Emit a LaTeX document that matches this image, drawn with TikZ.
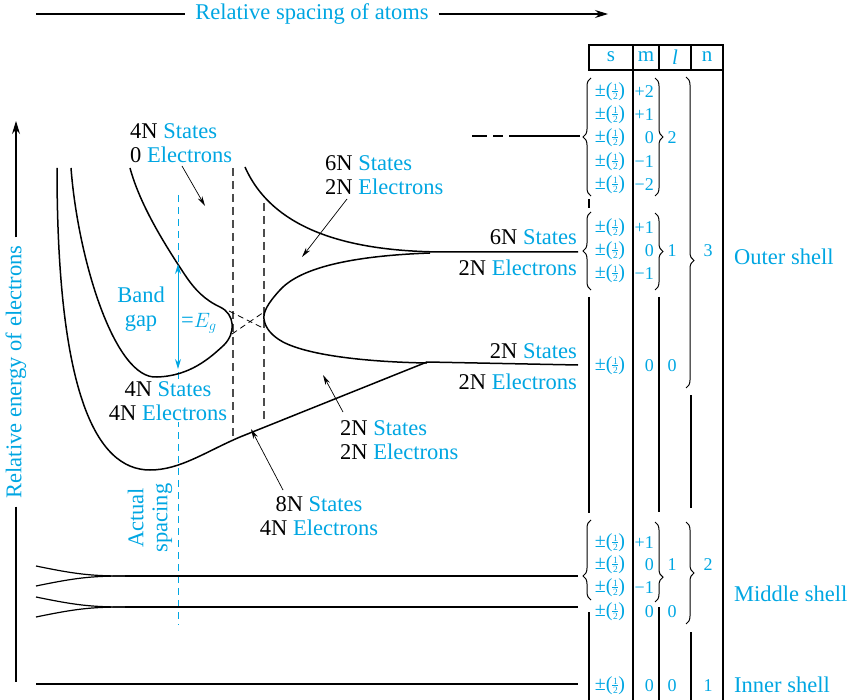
\documentclass[tikz,border=0pt]{standalone}
\usepackage{fontspec}
\setmainfont{Liberation Serif}
\usetikzlibrary{arrows.meta,decorations.pathreplacing}
\definecolor{cb}{RGB}{0,166,226}
\newcommand\cbt[1]{\textcolor{cb}{#1}}
\newcommand\hfrac{$\vcenter{\hbox to 6pt{\hss\fontsize{9.5}{9.5}\selectfont 1\hss}\kern1.2pt\hrule height 0.45pt\kern1.4pt\hbox to 6pt{\hss\fontsize{9.5}{9.5}\selectfont 2\hss}}$}
\newcommand\pmh{±(\hfrac)}
\begin{document}
\begin{tikzpicture}[x=1pt,y=-1pt,
  lbl/.style={font=\fontsize{22.5}{24}\selectfont, inner sep=0pt},
  tbl/.style={font=\fontsize{18}{20}\selectfont, text=cb, inner sep=0pt},
  tbs/.style={font=\fontsize{20}{22}\selectfont, text=cb, inner sep=0pt},
  hdrf/.style={font=\fontsize{21}{24}\selectfont, text=cb, inner sep=0pt},
  crv/.style={line width=1.5pt},
  vdsh/.style={line width=1.1pt, black!70, dash pattern=on 8pt off 5pt},
  bdsh/.style={cb, line width=1pt, dash pattern=on 7pt off 5pt},
  ptr/.style={line width=0.7pt, -{Stealth[length=10pt,width=5pt]}},
  tln/.style={line width=1.1pt},
  brc/.style={decorate, decoration={brace, amplitude=8pt, aspect=#1}, line width=1pt},
  brc/.default=0.5
]
\useasboundingbox (0,0) rectangle (848,700);

% ---------- header arrow ----------
\node[lbl, text=cb, inner xsep=10pt] (hdr) at (312,14) {Relative spacing of atoms};
\coordinate (hl) at (36,14);
\coordinate (hr) at (608,14);
\draw[tln] (hl) -- (hdr.west);
\draw[tln, -{Stealth[length=13pt,width=8pt]}] (hdr.east) -- (hr);

% ---------- energy axis ----------
\node[lbl, text=cb, rotate=90, inner xsep=8pt] (ax) at (16,372) {Relative energy of electrons};
\coordinate (axtop) at (16,121);
\coordinate (axbot) at (16,682);
\draw[tln, -{Stealth[length=13pt,width=8pt]}] (ax.east) -- (axtop);
\draw[tln] (ax.west) -- (axbot);

% ---------- dashed guide lines ----------
\draw[vdsh] (233,168) -- (233,436);
\draw[vdsh] (264,203) -- (264,420);
\draw[bdsh] (178,195) -- (178,262);
\draw[bdsh] (178,372) -- (178,625);
\draw[line width=0.8pt, dash pattern=on 6pt off 4pt] (229,311) -- (265,329);
\draw[line width=0.8pt, dash pattern=on 6pt off 4pt] (232,334) -- (264,312);

% ---------- band curves ----------
% outer 8N band
\draw[crv] (57,168) .. controls (57,390) and (95,470) .. (150,470)
  .. controls (180,470) and (205,452) .. (240,437) -- (427,362) -- (578,365);
% 4N U-shaped band
\draw[crv] (71,168) .. controls (78,260) and (115,380) .. (157,377)
  .. controls (190,376) and (210,358) .. (224,345)
  .. controls (236,333) and (235,314) .. (220,307)
  .. controls (205,300) and (195,290) .. (185,275)
  .. controls (165,245) and (140,205) .. (130,168);
% upper 6N band
\draw[crv] (245,167) .. controls (275,235) and (360,252) .. (447,252) -- (578,252);
% C-shaped band
\draw[crv] (430,253) .. controls (350,256) and (300,268) .. (280,290)
  .. controls (268,303) and (263,312) .. (264,319)
  .. controls (265,328) and (272,336) .. (283,342)
  .. controls (310,356) and (370,362) .. (427,363);
% d level
\draw[tln] (472,136) -- (487,136);
\draw[tln] (493,136) -- (503,136);
\draw[tln] (509,136) -- (580,136);

% middle shell
\draw[line width=1.2pt] (36,566) .. controls (75,574) and (90,576) .. (125,576);
\draw[line width=1.2pt] (36,586) .. controls (75,578) and (90,576) .. (125,576);
\draw[line width=1.3pt] (125,576) -- (578,576);
\draw[line width=1.2pt] (36,597) .. controls (75,605) and (90,607) .. (125,607);
\draw[line width=1.2pt] (36,617) .. controls (75,609) and (90,607) .. (125,607);
\draw[line width=1.3pt] (125,607) -- (578,607);
% inner shell
\draw[line width=1.8pt] (36,684) -- (578,684);

% ---------- band gap arrow ----------
\coordinate (gt) at (178,264);
\coordinate (gb) at (178,369);
\draw[cb, line width=1pt, {Stealth[length=10pt,width=6pt]}-{Stealth[length=10pt,width=6pt]}] (gt) -- (gb);

% ---------- labels ----------
\node[lbl, anchor=west, align=left] (L1) at (130,143) {4N \cbt{States}\\0 \cbt{Electrons}};
\node[lbl, anchor=west, align=left] (L2) at (325,175) {6N \cbt{States}\\2N \cbt{Electrons}};
\node[lbl, anchor=east] (L3a) at (577,237) {6N \cbt{States}};
\node[lbl, anchor=east] (L3b) at (577,268) {2N \cbt{Electrons}};
\node[lbl, anchor=east] (L4a) at (577,351) {2N \cbt{States}};
\node[lbl, anchor=east] (L4b) at (577,382) {2N \cbt{Electrons}};
\node[lbl, text=cb, align=center] (bg) at (141,309) {Band\\gap};
\node[lbl, text=cb, anchor=west] (eg) at (181,323) {=$E_g$};
\node[lbl, align=center, fill=white, inner sep=1pt] (L7) at (168,401) {4N \cbt{States}\\4N \cbt{Electrons}};
\node[lbl, anchor=west, align=left] (L8) at (340,440) {2N \cbt{States}\\2N \cbt{Electrons}};
\node[lbl, align=center] (L9) at (319,516) {8N \cbt{States}\\4N \cbt{Electrons}};
\node[lbl, text=cb, align=center, rotate=90] (act) at (150,518) {Actual\\spacing};

% ---------- pointer arrows ----------
\coordinate (p1s) at (182,166); \coordinate (p1e) at (205,206);
\coordinate (p2s) at (347,199); \coordinate (p2e) at (302,257);
\coordinate (p3s) at (343,412); \coordinate (p3e) at (323,375);
\coordinate (p4s) at (283,490); \coordinate (p4e) at (251,429);
\draw[ptr] (p1s) -- (p1e);
\draw[ptr] (p2s) -- (p2e);
\draw[ptr] (p3s) -- (p3e);
\draw[ptr] (p4s) -- (p4e);

% ---------- table frame ----------
\draw[tln] (589,45) rectangle (723,70);
\draw[tln] (659,45) -- (659,70);
\draw[tln] (691,45) -- (691,70);
\draw[tln] (633,45) -- (633,700);
\draw[tln] (723,70) -- (723,700);
\draw[tln] (589,199) -- (589,208);
\draw[tln] (589,297) -- (589,513);
\draw[tln] (589,612) -- (589,700);
\draw[tln] (659,297) -- (659,512);
\draw[tln] (659,607) -- (659,700);
\draw[tln] (691,395) -- (691,508);
\draw[tln] (691,632) -- (691,700);

\node[hdrf] (hs) at (611,57) {s};
\node[hdrf] (hm) at (646,57) {m};
\node[hdrf] (hl2) at (675,57) {\textit{l}};
\node[hdrf] (hn) at (707,57) {n};

% braces
\draw[brc] (591,196) -- (591,78);
\draw[brc] (591,290) -- (591,212);
\draw[brc=0.3] (591,600) -- (591,520);
\draw[brc] (655,78) -- (655,196);
\draw[brc] (655,213) -- (655,290);
\draw[brc=0.69] (655,522) -- (655,602);
\draw[brc=0.59] (686,77) -- (686,388);
\draw[brc] (686,522) -- (686,624);

% table entries
\foreach \y/\m [count=\i] in {92/+2,115/+1,138/0,162/−1,185/−2}{
  \node[tbs] (sd\i) at (610,\y) {\pmh};
  \node[tbl, anchor=east] (md\i) at (654,\y) {\m};
}
\node[tbl] (ld) at (672,138) {2};
\foreach \y/\m [count=\i] in {228/+1,251/0,274/−1}{
  \node[tbs] (sp\i) at (610,\y) {\pmh};
  \node[tbl, anchor=east] (mp\i) at (654,\y) {\m};
}
\node[tbl] (lp) at (672,251) {1};
\node[tbl] (n3) at (708,251) {3};
\node[tbs] (ss) at (610,366) {\pmh};
\node[tbl, anchor=east] (ms) at (654,366) {0};
\node[tbl] (ls) at (672,366) {0};
\foreach \y/\m [count=\i] in {543/+1,565/0,588/−1}{
  \node[tbs] (smp\i) at (610,\y) {\pmh};
  \node[tbl, anchor=east] (mmp\i) at (654,\y) {\m};
}
\node[tbl] (lmp) at (672,565) {1};
\node[tbl] (n2) at (708,565) {2};
\node[tbs] (sms) at (610,612) {\pmh};
\node[tbl, anchor=east] (mms) at (654,612) {0};
\node[tbl] (lms) at (672,612) {0};
\node[tbs] (sis) at (610,686) {\pmh};
\node[tbl, anchor=east] (mis) at (654,686) {0};
\node[tbl] (lis) at (672,686) {0};
\node[tbl] (n1) at (708,686) {1};

% shell labels
\node[lbl, text=cb, anchor=west] (outer) at (734,257) {Outer shell};
\node[lbl, text=cb, anchor=west] (middle) at (734,594) {Middle shell};
\node[lbl, text=cb, anchor=west] (inner) at (734,685) {Inner shell};
\end{tikzpicture}
\end{document}
